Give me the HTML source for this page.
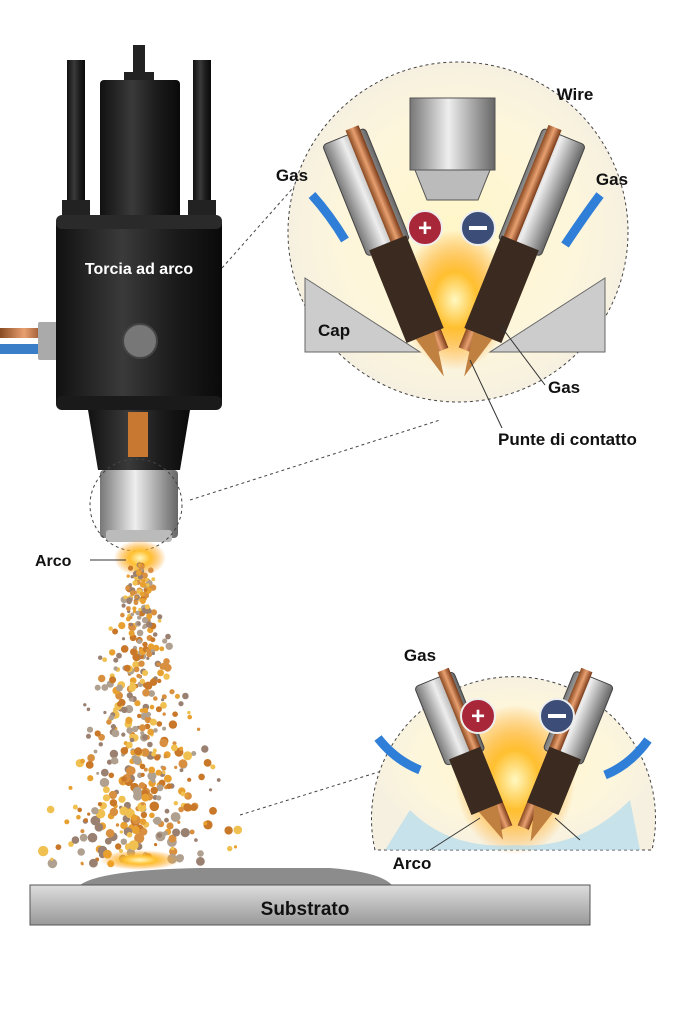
<!DOCTYPE html>
<html><head><meta charset="utf-8"><style>
html,body{margin:0;padding:0;background:#fff;}
svg{display:block;font-family:"Liberation Sans",sans-serif;}
.l{font-weight:bold;fill:#111;}
</style></head><body>
<svg id="s" width="683" height="1024" viewBox="0 0 683 1024" xmlns="http://www.w3.org/2000/svg">
<defs>
<linearGradient id="blk" x1="0" x2="1"><stop offset="0" stop-color="#111"/><stop offset="0.4" stop-color="#3a3a3a"/><stop offset="0.7" stop-color="#1c1c1c"/><stop offset="1" stop-color="#0a0a0a"/></linearGradient>
<linearGradient id="sil" x1="0" x2="1"><stop offset="0" stop-color="#777"/><stop offset="0.45" stop-color="#eee"/><stop offset="1" stop-color="#666"/></linearGradient>
<linearGradient id="cu" x1="0" x2="1"><stop offset="0" stop-color="#8a4a22"/><stop offset="0.5" stop-color="#e8a070"/><stop offset="1" stop-color="#7a3a18"/></linearGradient>
<linearGradient id="sub" x1="0" y1="0" x2="0" y2="1"><stop offset="0" stop-color="#ddd"/><stop offset="1" stop-color="#999"/></linearGradient>
<radialGradient id="glow"><stop offset="0" stop-color="#fff8c0"/><stop offset="0.4" stop-color="#ffc030"/><stop offset="1" stop-color="#ff9000" stop-opacity="0"/></radialGradient>
<radialGradient id="ins"><stop offset="0" stop-color="#fff6c8"/><stop offset="0.7" stop-color="#fdf6dc"/><stop offset="1" stop-color="#f6f0e0"/></radialGradient>
</defs>
<rect x="0" y="328" width="48" height="10" fill="url(#cu)"/>
<rect x="0" y="344" width="48" height="10" fill="#3a7ec8"/>
<rect x="38" y="322" width="20" height="20" fill="#aaa" rx="2"/>
<rect x="38" y="340" width="20" height="20" fill="#aaa" rx="2"/>
<rect x="67" y="60" width="18" height="160" fill="url(#blk)"/>
<rect x="193" y="60" width="18" height="160" fill="url(#blk)"/>
<rect x="62" y="200" width="28" height="20" fill="#222"/>
<rect x="188" y="200" width="28" height="20" fill="#222"/>
<rect x="133" y="45" width="12" height="30" fill="#222"/>
<rect x="124" y="72" width="30" height="10" fill="#222"/>
<rect x="100" y="80" width="80" height="140" fill="url(#blk)" rx="4"/>
<rect x="56" y="215" width="166" height="195" fill="url(#blk)" rx="8"/>
<rect x="56" y="215" width="166" height="14" fill="#2a2a2a" rx="6"/>
<rect x="56" y="396" width="166" height="14" fill="#1a1a1a" rx="6"/>
<text x="139" y="274" fill="#fff" font-size="16" text-anchor="middle" font-weight="bold">Torcia ad arco</text>
<circle cx="140" cy="341" r="17" fill="#777" stroke="#444" stroke-width="2"/>
<path d="M88 410 L190 410 L180 470 L98 470 Z" fill="url(#blk)"/>
<rect x="128" y="412" width="20" height="45" fill="#c87830"/>
<rect x="100" y="470" width="78" height="68" fill="url(#sil)" rx="4"/>
<rect x="106" y="530" width="66" height="12" fill="#bbb" rx="3"/>
<circle cx="136" cy="505" r="46" fill="none" stroke="#444" stroke-dasharray="3 3"/>
<ellipse cx="140" cy="558" rx="26" ry="18" fill="url(#glow)"/>
<text x="35" y="566" font-size="16" class="l">Arco</text>
<line x1="90" y1="560" x2="126" y2="560" stroke="#333"/>
<g id="spray"></g>
<path d="M80 885 Q100 870 200 868 L330 868 Q380 872 392 885 Z" fill="#8c8c8c"/>
<rect x="30" y="885" width="560" height="40" fill="url(#sub)" stroke="#555"/>
<text x="305" y="915" font-size="19" class="l" text-anchor="middle">Substrato</text>
<ellipse cx="140" cy="860" rx="40" ry="10" fill="url(#glow)"/>
<line x1="222" y1="268" x2="300" y2="180" stroke="#444" stroke-dasharray="3 3"/>
<line x1="190" y1="500" x2="440" y2="420" stroke="#444" stroke-dasharray="3 3"/>
<line x1="240" y1="815" x2="385" y2="770" stroke="#444" stroke-dasharray="3 3"/>
<circle cx="458" cy="232" r="170" fill="url(#ins)" stroke="#444" stroke-dasharray="3 3"/>
<rect x="410" y="98" width="85" height="72" fill="url(#sil)" stroke="#555"/>
<path d="M415 170 L490 170 L478 200 L427 200 Z" fill="#bbb" stroke="#555"/>
<path d="M305 278 L420 352 L305 352 Z" fill="#ccc" stroke="#666"/>
<path d="M605 278 L490 352 L605 352 Z" fill="#ccc" stroke="#666"/>
<ellipse cx="455" cy="300" rx="55" ry="70" fill="url(#glow)"/>
<g transform="translate(30 10) rotate(-22 380 240)">
<rect x="338" y="110" width="46" height="120" fill="url(#sil)" stroke="#444" rx="4"/>
<rect x="365" y="105" width="14" height="240" fill="url(#cu)"/>
<rect x="342" y="225" width="40" height="100" fill="#3a2a20"/>
<path d="M352 325 L372 325 L364 370 Z" fill="#c08040"/>
</g>
<g transform="translate(-32 10) rotate(22 530 240)">
<rect x="526" y="110" width="46" height="120" fill="url(#sil)" stroke="#444" rx="4"/>
<rect x="530" y="105" width="14" height="240" fill="url(#cu)"/>
<rect x="528" y="225" width="40" height="100" fill="#3a2a20"/>
<path d="M538 325 L558 325 L546 370 Z" fill="#c08040"/>
</g>
<path d="M312 195 Q330 215 345 240" stroke="#2f7ed8" stroke-width="9" fill="none"/>
<path d="M600 195 Q585 215 565 245" stroke="#2f7ed8" stroke-width="9" fill="none"/>
<circle cx="425" cy="228" r="17" fill="#a8283a" stroke="#eee" stroke-width="2"/>
<text x="425" y="236" font-size="24" fill="#fff" text-anchor="middle" font-weight="bold">+</text>
<circle cx="478" cy="228" r="17" fill="#3c4e78" stroke="#eee" stroke-width="2"/>
<rect x="469" y="226" width="18" height="4" fill="#fff"/>
<text x="292" y="181" font-size="17" class="l" text-anchor="middle">Gas</text>
<text x="575" y="100" font-size="17" class="l" text-anchor="middle">Wire</text>
<text x="612" y="185" font-size="17" class="l" text-anchor="middle">Gas</text>
<text x="318" y="336" font-size="17" class="l">Cap</text>
<text x="548" y="393" font-size="17" class="l">Gas</text>
<line x1="545" y1="385" x2="500" y2="325" stroke="#333"/>
<text x="498" y="445" font-size="17" class="l">Punte di contatto</text>
<line x1="502" y1="428" x2="470" y2="360" stroke="#333"/>
<path d="M375 850 A142 142 0 1 1 652 850 Z" fill="url(#ins)" stroke="#444" stroke-dasharray="3 3"/>
<ellipse cx="515" cy="780" rx="60" ry="75" fill="url(#glow)"/>
<path d="M410 810 Q450 850 515 845 Q580 850 630 800 L640 850 L385 850 Z" fill="#a8d8f0" opacity="0.6"/>
<g transform="translate(25 5) rotate(-22 450 760)">
<rect x="423" y="665" width="42" height="85" fill="url(#sil)" stroke="#444" rx="4"/>
<rect x="450" y="660" width="12" height="170" fill="url(#cu)"/>
<rect x="428" y="745" width="34" height="60" fill="#3a2a20"/>
<path d="M436 805 L456 805 L448 840 Z" fill="#c08040"/>
</g>
<g transform="translate(-25 5) rotate(22 580 760)">
<rect x="563" y="665" width="42" height="85" fill="url(#sil)" stroke="#444" rx="4"/>
<rect x="568" y="660" width="12" height="170" fill="url(#cu)"/>
<rect x="568" y="745" width="34" height="60" fill="#3a2a20"/>
<path d="M576 805 L596 805 L586 840 Z" fill="#c08040"/>
</g>
<path d="M378 738 Q395 760 420 770" stroke="#2f7ed8" stroke-width="9" fill="none"/>
<path d="M648 740 Q630 765 605 775" stroke="#2f7ed8" stroke-width="9" fill="none"/>
<circle cx="478" cy="716" r="17" fill="#a8283a" stroke="#eee" stroke-width="2"/>
<text x="478" y="724" font-size="24" fill="#fff" text-anchor="middle" font-weight="bold">+</text>
<circle cx="557" cy="716" r="17" fill="#3c4e78" stroke="#eee" stroke-width="2"/>
<rect x="548" y="714" width="18" height="4" fill="#fff"/>
<text x="420" y="661" font-size="17" class="l" text-anchor="middle">Gas</text>
<text x="412" y="869" font-size="17" class="l" text-anchor="middle">Arco</text>
<line x1="430" y1="850" x2="480" y2="818" stroke="#333"/>
<line x1="580" y1="840" x2="555" y2="818" stroke="#333"/>
</svg>
<script>
(function(){var g=document.getElementById('spray');var seed=7;function r(){seed=(seed*16807)%2147483647;return seed/2147483647;}
var cols=['#e8a030','#c87828','#f0c050','#9a8070','#d89040','#b0a090'];var h='';
for(var i=0;i<520;i++){var t=r();var y=565+t*300;var w=8+t*85;var x=140+(r()+r()+r()-1.5)*w*0.9;var rad=1.5+r()*3.5*(0.5+t*0.6);
h+='<circle cx="'+x.toFixed(1)+'" cy="'+y.toFixed(1)+'" r="'+rad.toFixed(1)+'" fill="'+cols[Math.floor(r()*cols.length)]+'"/>';}
g.innerHTML=h;})();
</script>
</body></html>
